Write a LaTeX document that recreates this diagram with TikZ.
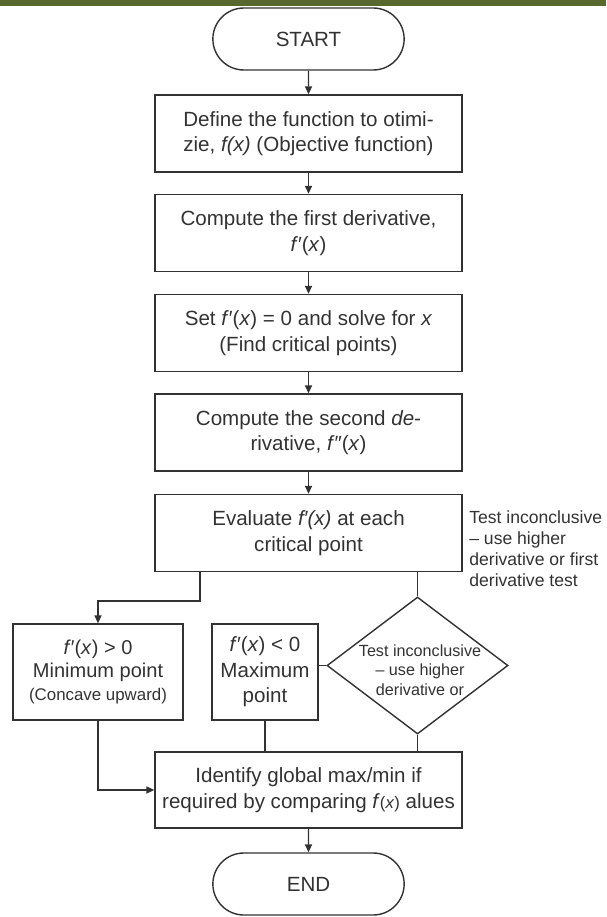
\documentclass[tikz,border=0pt]{standalone}
\usepackage{fontspec}
\setmainfont{Liberation Sans}
\usetikzlibrary{shapes,arrows.meta}
\definecolor{bandgreen}{RGB}{88,104,46}
\definecolor{ink}{RGB}{50,50,50}

\begin{document}
\begin{tikzpicture}[
	text centered,
	font=\fontsize{11.7}{14.5}\selectfont,
	text=ink,
	terminal/.style={
	  rounded rectangle,
	  minimum width=4.06cm,
	  minimum height=1.24cm,
	  line width=0.8pt,
	  draw=ink
	},
	block/.style={
	  rectangle,
	  align=center,
	  minimum width=6.14cm,
	  minimum height=1.54cm,
	  inner sep=2pt,
	  line width=0.8pt,
	  draw=ink
	},
	result/.style={
	  rectangle,
	  align=center,
	  minimum height=1.92cm,
	  inner sep=2pt,
	  line width=0.8pt,
	  draw=ink
	},
	decision/.style={
	  diamond,
	  minimum width=3.62cm,
	  minimum height=2.74cm,
	  inner sep=0pt,
	  line width=0.8pt,
	  draw=ink
	},
	note/.style={
	  align=left,
	  inner sep=0pt,
	  font=\fontsize{10}{11.9}\selectfont
	},
	>={Triangle[length=4.5pt,width=4pt]},
	line/.style={draw=ink, line width=0.8pt, ->},
	link/.style={draw=ink, line width=0.8pt}
	]
	\useasboundingbox (0, 0) rectangle (12.12, -18.34);
	\fill[bandgreen] (0, 0) rectangle (12.12, -0.13);
	\node at (6.17, -0.78) [terminal] (start) {START};
	\node at (6.17, -2.67) [block] (define) {Define the function to otimi-\\zie, \textit{f(x)} (Objective function)};
	\node at (6.17, -4.66) [block] (first) {Compute the first derivative,\\\textit{f}′(\textit{x})};
	\node at (6.17, -6.66) [block] (critical) {Set \textit{f}′(\textit{x}) = 0 and solve for \textit{x}\\(Find critical points)};
	\node at (6.17, -8.65) [block] (second) {Compute the second \textit{de}-\\rivative, \textit{f}″(\textit{x})};
	\node at (6.17, -10.66) [block] (evaluate) {Evaluate \textit{f′(x)} at each\\critical point};
	\node at (9.38, -10.98) [note, anchor=west] (sidenote) {Test inconclusive\\– use higher\\derivative or first\\derivative test};
	\node at (1.96, -13.44) [result, minimum width=3.4cm, font=\fontsize{11.4}{13}\selectfont] (minimum) {\textit{f}′(\textit{x}) > 0\\Minimum point\\{\fontsize{9.6}{13}\selectfont (Concave upward)}};
	\node at (5.3, -13.44) [result, minimum width=2.12cm] (maximum) {\textit{f}′(\textit{x}) < 0\\Maximum\\point};
	\node at (8.35, -13.31) [decision] (test) {};
	\node at (8.4, -13.4) [note, align=center, font=\fontsize{9.2}{11}\selectfont] (testtext) {Test inconclusive\\– use higher\\derivative or};
	\node at (6.17, -15.8) [block, minimum height=1.52cm] (identify) {Identify global max/min if\\required by comparing \textit{f}{\fontsize{9.5}{11}\selectfont(\textit{x})} alues};
	\node at (6.17, -17.68) [terminal] (ende) {END};
	\coordinate (knee) at (4.0, -12.02);
	\path[line] (start) -- (define);
	\path[line] (define) -- (first);
	\path[line] (first) -- (critical);
	\path[line] (critical) -- (second);
	\path[line] (second) -- (evaluate);
	\path[line] (evaluate.south -| knee) -- (knee) -| (minimum.north);
	\path[link] (evaluate.south -| test.north) -- (test.north);
	\path[link] (maximum.east |- test.west) -- (test.west);
	\path[line] (minimum.south) |- (identify.west);
	\path[link] (maximum.south) -- (maximum.south |- identify.north);
	\path[link] (test.south) -- (test.south |- identify.north);
	\path[line] (identify) -- (ende);
\end{tikzpicture}
\end{document}
